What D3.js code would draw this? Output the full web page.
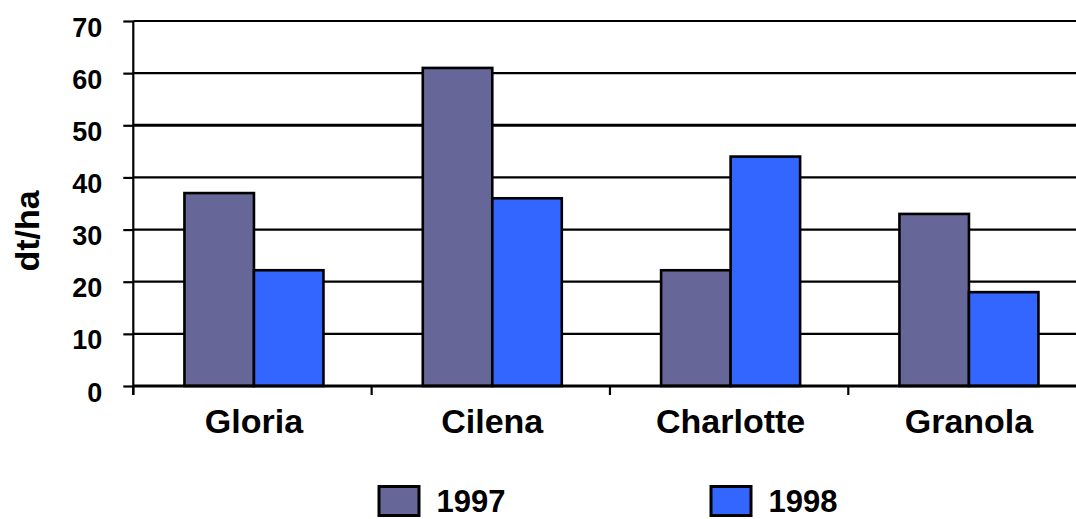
<!DOCTYPE html>
<html><head><meta charset="utf-8">
<script src="https://cdn.jsdelivr.net/npm/d3@7"></script>
<style>html,body{margin:0;padding:0;background:#fff;overflow:hidden}</style>
</head><body>
<svg id="c" width="1076" height="519"></svg>
<script>
const categories = ["Gloria", "Cilena", "Charlotte", "Granola"];
const seriesNames = ["1997", "1998"];
const values1997 = [37, 61, 22.2, 33];
const values1998 = [22.2, 36, 44, 18];
const yTicks = [0, 10, 20, 30, 40, 50, 60, 70];
const yTitle = "dt/ha";
const colors = ["#666699", "#3366FF"];

(function () {
const svg = d3.select("#c");
const font = "'Liberation Sans', Arial, sans-serif";
const pLeft = 133.3, pRight = 1086.6, pTop = 21, pBottom = 386;

const y = d3.scaleLinear().domain([0, 70]).range([pBottom, pTop]);
const x0 = d3.scaleBand().domain(categories).range([pLeft, pRight]).paddingInner(0.4167).paddingOuter(0.2083);
const x1 = d3.scaleBand().domain(seriesNames).range([0, x0.bandwidth()]);

// gridlines
svg.append("g").selectAll("line").data(yTicks.filter(d => d > 0)).join("line")
  .attr("x1", pLeft).attr("x2", 1076).attr("y1", d => y(d)).attr("y2", d => y(d))
  .attr("stroke", "#000").attr("stroke-width", d => d === 50 ? 3 : 2.2);

// y axis
const yAxis = d3.axisLeft(y).tickValues(yTicks).tickSize(10).tickFormat(d3.format("d"));
const gy = svg.append("g").attr("transform", `translate(${pLeft},0)`).call(yAxis);
gy.select(".domain").remove();
gy.selectAll(".tick line").attr("stroke", "#000").attr("stroke-width", 2.2);
gy.selectAll(".tick text").attr("x", -31).attr("dy", "0.56em")
  .attr("font-family", font).attr("font-weight", "bold").attr("font-size", 27).attr("fill", "#000");
svg.append("line").attr("x1", pLeft).attr("x2", pLeft).attr("y1", pTop).attr("y2", pBottom + 9)
  .attr("stroke", "#000").attr("stroke-width", 2.2);

// bars
const data = categories.map((c, i) => ({c, vals: [values1997[i], values1998[i]]}));
const groups = svg.append("g").selectAll("g").data(data).join("g")
  .attr("transform", d => `translate(${x0(d.c) + 1.5},0)`);
groups.selectAll("rect").data(d => d.vals.map((v, j) => ({s: seriesNames[j], v, j}))).join("rect")
  .attr("x", d => x1(d.s)).attr("width", x1.bandwidth())
  .attr("y", d => y(d.v)).attr("height", d => y(0) - y(d.v))
  .attr("fill", d => colors[d.j]).attr("stroke", "#000").attr("stroke-width", 2.6);

// x axis
svg.append("line").attr("x1", pLeft).attr("x2", 1076).attr("y1", pBottom).attr("y2", pBottom)
  .attr("stroke", "#000").attr("stroke-width", 3);
const step = x0.step();
svg.append("g").selectAll("line").data(d3.range(categories.length + 1)).join("line")
  .attr("x1", i => pLeft + i * step).attr("x2", i => pLeft + i * step)
  .attr("y1", pBottom).attr("y2", pBottom + 9).attr("stroke", "#000").attr("stroke-width", 2.2);
svg.append("g").selectAll("text").data(categories).join("text")
  .attr("x", d => x0(d) + x0.bandwidth() / 2 + 1.5).attr("y", 433)
  .attr("text-anchor", "middle").attr("font-family", font).attr("font-weight", "bold")
  .attr("font-size", 34).attr("fill", "#000").text(d => d);

// y title
svg.append("text").attr("transform", "translate(39,231) rotate(-90)")
  .attr("text-anchor", "middle").attr("font-family", font).attr("font-weight", "bold")
  .attr("font-size", 34).attr("fill", "#000").text(yTitle);

// legend
const legX = [377.5, 709.5];
const lg = svg.append("g").selectAll("g").data(seriesNames).join("g")
  .attr("transform", (d, i) => `translate(${legX[i]},0)`);
lg.append("rect").attr("x", 1.5).attr("y", 486.5).attr("width", 40).attr("height", 29)
  .attr("fill", (d, i) => colors[i]).attr("stroke", "#000").attr("stroke-width", 3);
lg.append("text").attr("x", 59).attr("y", 512).attr("font-family", font).attr("font-weight", "bold")
  .attr("font-size", 31).attr("fill", "#000").text(d => d);
})();
</script>
</body></html>
